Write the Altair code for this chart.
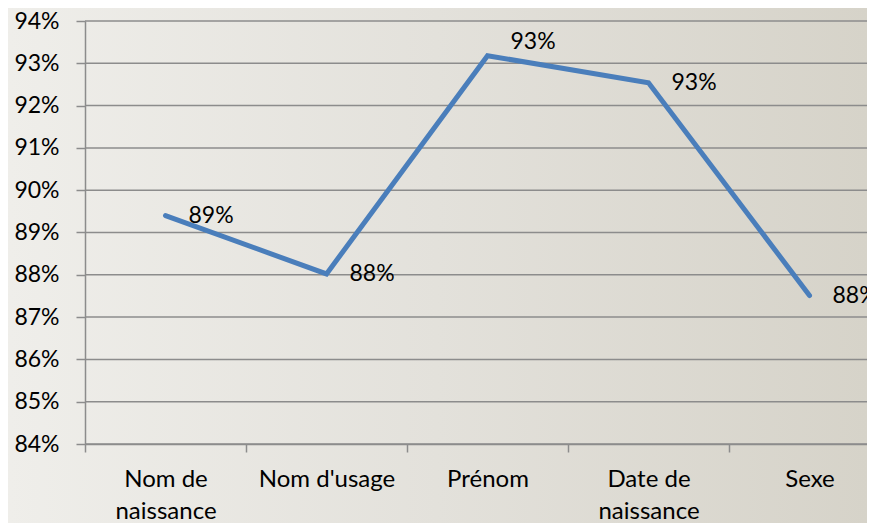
import altair as alt
import pandas as pd

categories = ["Nom de naissance", "Nom d'usage", "Prénom", "Date de naissance", "Sexe"]
values = [0.894, 0.8802, 0.9318, 0.9254, 0.8751]
y_ticks = [0.84, 0.85, 0.86, 0.87, 0.88, 0.89, 0.90, 0.91, 0.92, 0.93, 0.94]

df = pd.DataFrame({"cat": categories, "val": values, "order": list(range(len(categories)))})
grid_df = pd.DataFrame({"val": y_ticks})

FONT = "Lato"
FS = 23
GREY = "#8c8c8c"
W = 782
H = 423

x_scale = alt.Scale(type="band", paddingInner=0, paddingOuter=0, range=[0, 805])
y_scale = alt.Scale(domain=[0.84, 0.94], nice=False, zero=False)

x_enc = alt.X(
    "cat:N",
    sort=categories,
    scale=x_scale,
    axis=alt.Axis(
        title=None,
        labelAngle=0,
        tickBand="extent",
        grid=False,
        zindex=1,
        domainColor=GREY,
        domainWidth=1.5,
        tickColor=GREY,
        tickWidth=1.5,
        tickSize=8,
        labelPadding=34,
        labelFont=FONT,
        labelFontSize=24,
        labelColor="#000000",
        labelLineHeight=32,
        labelBaseline="alphabetic",
        labelExpr="length(datum.label) > 12 ? [substring(datum.label, 0, lastindexof(datum.label, ' ')), substring(datum.label, lastindexof(datum.label, ' ') + 1)] : datum.label",
    ),
)

y_enc = alt.Y(
    "val:Q",
    scale=y_scale,
    axis=alt.Axis(
        title=None,
        format=".0%",
        values=y_ticks,
        grid=False,
        zindex=1,
        domainColor=GREY,
        domainWidth=1.5,
        tickColor=GREY,
        tickWidth=1.5,
        tickSize=9,
        labelPadding=17,
        labelFont=FONT,
        labelFontSize=FS,
        labelColor="#000000",
    ),
)

bg = alt.Chart(df).mark_rect(
    fill=alt.Gradient(
        gradient="linear",
        stops=[
            alt.GradientStop(color="#efeeea", offset=0),
            alt.GradientStop(color="#e3e1db", offset=0.5),
            alt.GradientStop(color="#d6d3c9", offset=1),
        ],
        x1=0, x2=1, y1=0, y2=0,
    )
).encode(
    x=alt.value(-77), x2=alt.value(W), y=alt.value(-13), y2=alt.value(H + 79)
)

grid = alt.Chart(grid_df).mark_rule(color=GREY, strokeWidth=1.5).encode(
    y=alt.Y("val:Q", scale=y_scale),
    x=alt.value(0),
    x2=alt.value(W),
)

line = alt.Chart(df).mark_line(
    color="#4a7ebb", strokeWidth=5, strokeCap="round", strokeJoin="miter"
).encode(x=x_enc, y=y_enc, order="order:Q")

labels = alt.Chart(df).transform_filter(
    "datum.cat != 'Prénom'"
).mark_text(
    align="left", baseline="middle", dx=23, font=FONT, fontSize=FS, color="#000000"
).encode(x=alt.X("cat:N", sort=categories), y="val:Q", text=alt.Text("val:Q", format=".0%"))

label_top = alt.Chart(df).transform_filter(
    "datum.cat == 'Prénom'"
).mark_text(
    align="left", baseline="middle", dx=23, dy=-14, font=FONT, fontSize=FS, color="#000000"
).encode(x=alt.X("cat:N", sort=categories), y="val:Q", text=alt.Text("val:Q", format=".0%"))

chart = alt.layer(bg, grid, line, labels, label_top).properties(
    width=W,
    height=H,
    autosize=alt.AutoSizeParams(type="none"),
    padding={"left": 77, "top": 13, "right": 0, "bottom": 79},
    background="#e4e2dc",
).configure_view(stroke=None)

chart.save("out.html", embed_options={"renderer": "svg", "actions": False})
